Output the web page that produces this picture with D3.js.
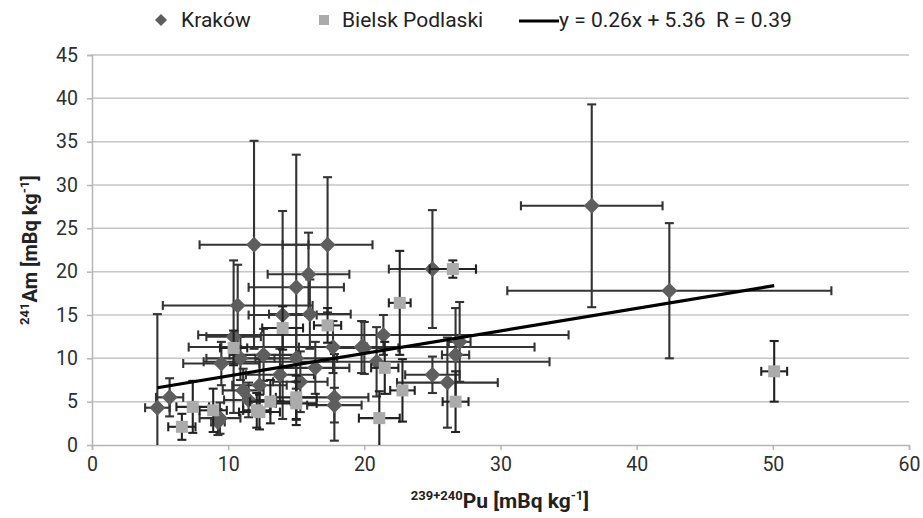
<!DOCTYPE html>
<html><head><meta charset="utf-8">
<script src="https://cdn.jsdelivr.net/npm/d3@7"></script>
<style>body{margin:0;background:#fff}svg{display:block}</style>
</head><body><svg id="c" width="923" height="518"></svg>
<script>
// ---- data ----
const krakowX    = [4.8, 5.7, 9.25, 9.4, 9.5, 10.4, 10.7, 10.9, 11.1, 11.5, 11.9, 12.3, 12.6, 13.8, 14.0, 15.0, 15.0, 15.3, 15.9, 16.0, 16.4, 17.3, 17.7, 17.8, 17.8, 19.8, 20.0, 20.9, 21.4, 25.0, 25.0, 26.1, 26.7, 27.0, 36.7, 42.4];
const krakowY    = [4.3, 5.5, 2.65, 3.1, 9.4, 12.5, 16.1, 10.0, 6.3, 5.2, 23.1, 6.9, 10.4, 8.1, 15.0, 18.2, 10.0, 7.3, 19.7, 15.1, 8.9, 23.1, 11.3, 5.5, 4.6, 11.3, 11.2, 9.6, 12.7, 20.3, 8.1, 7.2, 10.4, 11.9, 27.6, 17.8];
const krakowXErr = [0.9, 1.0, 0.5, 1.5, 2.8, 2.0, 5.5, 2.5, 1.5, 1.8, 4.0, 2.0, 2.5, 2.5, 2.5, 3.5, 3.0, 2.0, 3.0, 3.0, 2.5, 3.3, 2.5, 2.5, 2.0, 12.7, 2.5, 12.7, 13.6, 3.2, 2.0, 3.7, 1.0, 0.8, 5.2, 11.9];
const krakowYErr = [10.8, 2.2, 1.5, 1.8, 2.5, 8.8, 4.7, 2.5, 2.5, 2.0, 12.0, 3.0, 3.0, 3.0, 12.0, 15.3, 3.5, 3.5, 4.8, 4.0, 3.0, 7.8, 3.0, 5.0, 2.0, 3.0, 3.0, 4.0, 2.3, 6.8, 2.1, 5.2, 5.4, 4.6, 11.7, 7.8];

const bielskX    = [6.6, 7.4, 8.9, 10.4, 12.1, 12.3, 13.1, 14.0, 15.0, 15.0, 17.3, 21.1, 21.5, 22.6, 22.8, 26.5, 26.7, 50.1];
const bielskY    = [2.1, 4.4, 4.0, 11.2, 4.0, 3.8, 5.0, 13.5, 5.5, 4.8, 13.8, 3.1, 8.9, 16.4, 6.3, 20.3, 5.0, 8.5];
const bielskXErr = [1.0, 1.2, 1.0, 1.0, 1.0, 1.5, 1.5, 1.5, 1.5, 1.5, 1.0, 1.5, 1.0, 0.8, 0.9, 1.7, 0.95, 0.95];
const bielskYErr = [1.5, 3.0, 2.5, 2.0, 2.0, 2.0, 2.5, 2.5, 2.5, 2.5, 2.0, 3.1, 3.0, 6.0, 3.6, 1.0, 3.5, 3.5];

const xTicks = [0, 10, 20, 30, 40, 50, 60];
const yTicks = [0, 5, 10, 15, 20, 25, 30, 35, 40, 45];
const trendSlope = 0.26, trendIntercept = 5.36;
const seriesNames = ["Kraków", "Bielsk Podlaski"];
const trendLabel = "y = 0.26x + 5.36  R = 0.39";

// ---- chart ----
const FONT = "'Roboto','Liberation Sans',sans-serif";
const svg = d3.select("#c");
const x = d3.scaleLinear().domain([0, 60]).range([92, 909]);
const y = d3.scaleLinear().domain([0, 45]).range([445, 55]);

// gridlines
svg.append("g").selectAll("line").data(yTicks.filter(d => d > 0)).join("line")
  .attr("x1", x(0)).attr("x2", x(60)).attr("y1", d => y(d)).attr("y2", d => y(d))
  .attr("stroke", "#c6c6c6").attr("stroke-width", 1.5);

// axes
const xAxis = d3.axisBottom(x).tickValues(xTicks).tickSize(5).tickPadding(7).tickFormat(d3.format("d"));
const yAxis = d3.axisLeft(y).tickValues(yTicks).tickSize(5).tickPadding(9).tickFormat(d3.format("d"));
const gx = svg.append("g").attr("transform", `translate(0,${y(0)})`).call(xAxis);
const gy = svg.append("g").attr("transform", `translate(${x(0)},0)`).call(yAxis);
[gx, gy].forEach(g => {
  g.select(".domain").attr("stroke", "#b5b5b5").attr("stroke-width", 1.5);
  g.selectAll(".tick line").attr("stroke", "#b5b5b5").attr("stroke-width", 1.5);
  g.selectAll("text").attr("font-family", FONT).attr("font-size", 19.5).attr("fill", "#2e2e2e");
});
gy.select(".tick:first-of-type line").remove();

// error bars
function errorBars(g, X, Y, XE, YE, color) {
  const cap = 4.5;
  X.forEach((xv, i) => {
    const cx = x(xv), cy = y(Y[i]);
    const x0 = Math.max(0, xv - XE[i]), x1 = Math.min(60, xv + XE[i]);
    const y0 = Math.max(0, Y[i] - YE[i]), y1 = Math.min(45, Y[i] + YE[i]);
    const seg = (a, b, c, d) => g.append("line").attr("x1", a).attr("y1", b).attr("x2", c).attr("y2", d)
      .attr("stroke", color).attr("stroke-width", 2.1);
    seg(x(x0), cy, x(x1), cy);
    seg(cx, y(y0), cx, y(y1));
    if (xv - XE[i] >= 0) seg(x(x0), cy - cap, x(x0), cy + cap);
    seg(x(x1), cy - cap, x(x1), cy + cap);
    if (Y[i] - YE[i] > 0) seg(cx - cap, y(y0), cx + cap, y(y0));
    seg(cx - cap, y(y1), cx + cap, y(y1));
  });
}
const gk = svg.append("g");
errorBars(gk, krakowX, krakowY, krakowXErr, krakowYErr, "#333");
gk.selectAll("path").data(krakowX).join("path")
  .attr("transform", (d, i) => `translate(${x(d)},${y(krakowY[i])})`)
  .attr("d", "M0,-8L8,0L0,8L-8,0Z").attr("fill", "#5e5e5e");

const gb = svg.append("g");
errorBars(gb, bielskX, bielskY, bielskXErr, bielskYErr, "#222");
gb.selectAll("rect").data(bielskX).join("rect")
  .attr("x", d => x(d) - 6).attr("y", (d, i) => y(bielskY[i]) - 6)
  .attr("width", 12).attr("height", 12).attr("fill", "#ababab");

// trendline
const allX = krakowX.concat(bielskX);
const tx = d3.extent(allX);
svg.append("line")
  .attr("x1", x(tx[0])).attr("y1", y(trendSlope * tx[0] + trendIntercept))
  .attr("x2", x(tx[1])).attr("y2", y(trendSlope * tx[1] + trendIntercept))
  .attr("stroke", "#000").attr("stroke-width", 3.2);

// legend
const lg = svg.append("g").attr("font-family", FONT).attr("font-size", 21).attr("fill", "#222");
lg.append("path").attr("d", "M0,-6L6,0L0,6L-6,0Z").attr("transform", "translate(161,20)").attr("fill", "#5e5e5e");
lg.append("text").attr("x", 181).attr("y", 27).text(seriesNames[0]);
lg.append("rect").attr("x", 319).attr("y", 15).attr("width", 10).attr("height", 10).attr("fill", "#ababab");
lg.append("text").attr("x", 342).attr("y", 27).text(seriesNames[1]);
lg.append("line").attr("x1", 519).attr("x2", 559).attr("y1", 21).attr("y2", 21).attr("stroke", "#000").attr("stroke-width", 3.2);
lg.append("text").attr("x", 559).attr("y", 27).style("white-space", "pre").text(trendLabel);

// axis titles
const xt = svg.append("text").attr("x", 500).attr("y", 508).attr("text-anchor", "middle")
  .attr("font-family", FONT).attr("font-weight", "bold").attr("font-size", 21).attr("fill", "#222");
xt.append("tspan").attr("font-size", 13).attr("dy", -8).text("239+240");
xt.append("tspan").attr("dy", 8).text("Pu [mBq kg");
xt.append("tspan").attr("font-size", 13).attr("dy", -8).text("-1");
xt.append("tspan").attr("dy", 8).text("]");

const yt = svg.append("text").attr("transform", "translate(37,250) rotate(-90)").attr("text-anchor", "middle")
  .attr("font-family", FONT).attr("font-weight", "bold").attr("font-size", 20).attr("fill", "#222");
yt.append("tspan").attr("font-size", 13).attr("dy", -8).text("241");
yt.append("tspan").attr("dy", 8).text("Am [mBq kg");
yt.append("tspan").attr("font-size", 13).attr("dy", -8).text("-1");
yt.append("tspan").attr("dy", 8).text("]");
</script>
</body></html>
